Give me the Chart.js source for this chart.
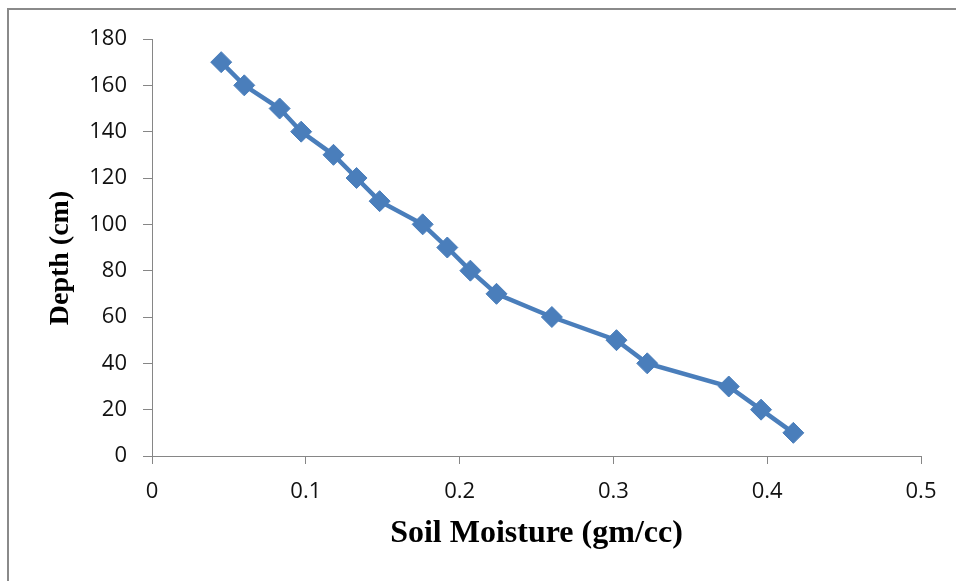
<!DOCTYPE html>
<html>
<head>
<meta charset="utf-8">
<script src="https://cdn.jsdelivr.net/npm/chart.js@4"></script>
<style>
    html, body { margin: 0; padding: 0; background: #fff; }
    #wrap { position: relative; width: 956px; height: 581px; overflow: hidden; }
    #frame { position: absolute; left: 7px; top: 8px; width: 1000px; height: 700px; border-left: 2px solid #8a8a8a; border-top: 2px solid #8a8a8a; pointer-events: none; }
    canvas { position: absolute; left: 0; top: 0; }
</style>
</head>
<body>
<div id="wrap">
    <canvas id="moistureChart" width="956" height="581"></canvas>
    <div id="frame"></div>
</div>
<script>
// depth (cm) against soil moisture (gm/cc)
const depth = [170, 160, 150, 140, 130, 120, 110, 100, 90, 80, 70, 60, 50, 40, 30, 20, 10];
const moisture = [0.045, 0.060, 0.083, 0.097, 0.118, 0.133, 0.148, 0.176, 0.192, 0.207, 0.224, 0.260, 0.302, 0.322, 0.375, 0.396, 0.417];
const xTicks = [0, 0.1, 0.2, 0.3, 0.4, 0.5];
const yTicks = [0, 20, 40, 60, 80, 100, 120, 140, 160, 180];

const blue = '#4a7ebb';
const axisGrey = '#868686';

const ctx = document.getElementById('moistureChart').getContext('2d');

const chart = new Chart(ctx, {
    type: 'scatter',
    data: {
        datasets: [
            {
                label: 'Depth',
                data: moisture.map((m, i) => ({ x: m, y: depth[i] })),
                showLine: true,
                borderColor: blue,
                backgroundColor: blue,
                borderWidth: 4.5,
                pointStyle: 'rectRot',
                pointRadius: 10.5,
                pointBorderWidth: 1,
                pointBackgroundColor: blue,
                pointBorderColor: blue
            }
        ]
    },
    options: {
        responsive: false,
        animation: false,
        layout: {
            padding: { left: 0, top: 39, right: 35, bottom: 0 }
        },
        plugins: {
            legend: { display: false },
            tooltip: { enabled: false }
        },
        scales: {
            x: {
                type: 'linear',
                min: 0,
                max: 0.5,
                afterBuildTicks: (scale) => {
                    scale.ticks = xTicks.map(v => ({ value: v }));
                },
                afterFit: (scale) => {
                    scale.height = 125;
                },
                grid: {
                    drawOnChartArea: false,
                    drawTicks: true,
                    tickLength: 8,
                    tickColor: axisGrey
                },
                border: { display: true, color: axisGrey, width: 1 },
                ticks: {
                    padding: 15,
                    color: '#111',
                    font: { family: 'Open Sans', size: 22 },
                    callback: (value) => String(+value.toFixed(1))
                },
                title: {
                    display: true,
                    text: 'Soil Moisture (gm/cc)',
                    color: '#000',
                    font: { family: 'Liberation Serif', size: 32, weight: 'bold' },
                    padding: { top: 0, bottom: 28 }
                }
            },
            y: {
                min: 0,
                max: 180,
                afterBuildTicks: (scale) => {
                    scale.ticks = yTicks.map(v => ({ value: v }));
                },
                afterFit: (scale) => {
                    scale.width = 152;
                },
                grid: {
                    drawOnChartArea: false,
                    drawTicks: true,
                    tickLength: 9,
                    tickColor: axisGrey
                },
                border: { display: true, color: axisGrey, width: 1 },
                ticks: {
                    padding: 16,
                    color: '#111',
                    font: { family: 'Open Sans', size: 22 }
                },
                title: {
                    display: true,
                    // trailing spaces nudge the rotated title down, as in the original
                    text: 'Depth (cm)   ',
                    color: '#000',
                    font: { family: 'Liberation Serif', size: 28, weight: 'bold' },
                    padding: { top: 44, bottom: 0 }
                }
            }
        }
    }
});
</script>
</body>
</html>
